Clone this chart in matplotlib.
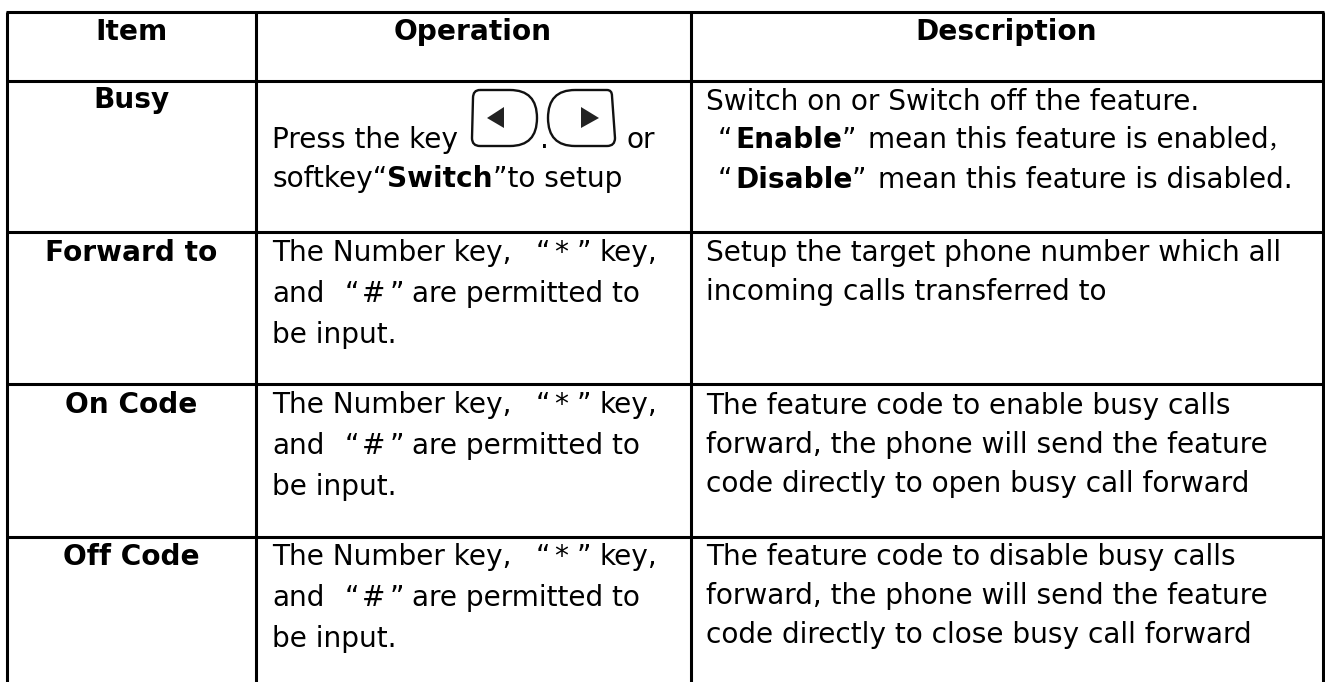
import matplotlib
matplotlib.use('Agg')
import matplotlib.pyplot as plt
from matplotlib.patches import PathPatch, Polygon
from matplotlib.path import Path

plt.rcParams['font.family'] = ['DejaVu Sans', 'Noto Sans CJK SC']

# table grid, pixels
col_x = [7, 256, 691, 1323]
row_y = [12, 81, 232, 384, 537]

headers = ['Item', 'Operation', 'Description']
header_x = [131, 473, 1006]
items = ['Busy', 'Forward to', 'On Code', 'Off Code']
item_y = [108, 261, 413, 565]

key_line1 = ['The Number key,', '“', '*', '”', 'key,']
key_line1_x = [272, 536, 554, 577, 600]
key_line2 = ['and', '“', '#', '”', 'are permitted to']
key_line2_x = [272, 345, 362, 390, 412]
key_line3 = 'be input.'
key_rows = [261, 413, 565]

forward_text = ['Setup the target phone number which all', 'incoming calls transferred to']
on_text = ['The feature code to enable busy calls', 'forward, the phone will send the feature', 'code directly to open busy call forward']
off_text = ['The feature code to disable busy calls', 'forward, the phone will send the feature', 'code directly to close busy call forward']

FS = 20.2

fig = plt.figure(figsize=(13.25, 6.82), dpi=100)
ax = fig.add_axes([0, 0, 1, 1])
ax.set_xlim(0, 1325)
ax.set_ylim(682, 0)
ax.axis('off')

# 画表格线
for x in col_x:
    ax.plot([x, x], [row_y[0], 682], color='black', lw=2.2, solid_capstyle='butt')
for y in row_y:
    ax.plot([col_x[0] - 1, col_x[-1] + 1], [y, y], color='black', lw=2.2, solid_capstyle='butt')

renderer = fig.canvas.get_renderer()

def txt(x, y, s, weight='normal', size=FS):
    ax.text(x, y, s, fontsize=size, fontweight=weight, va='baseline', ha='left', color='black')

def runs(x, y, parts):
    # 一段一段画，粗体和普通字接在一起
    for s, w in parts:
        t = ax.text(x, y, s + '|', fontsize=FS, fontweight=w, va='baseline', ha='left', color='black')
        w1 = t.get_window_extent(renderer).width
        t.set_text('|')
        w2 = t.get_window_extent(renderer).width
        t.set_text(s)
        x += w1 - w2

def block(x, ys, lines):
    for y, s in zip(ys, lines):
        txt(x, y, s)

for cx, s in zip(header_x, headers):
    ax.text(cx, 40, s, fontsize=FS, fontweight='bold', ha='center', va='baseline')

for y, s in zip(item_y, items):
    ax.text(header_x[0], y, s, fontsize=FS, fontweight='bold', ha='center', va='baseline')

# Operation column
txt(272, 148, 'Press the key')
runs(272, 187, [('softkey“', 'normal'), ('Switch', 'bold'), ('”to setup', 'normal')])
txt(540, 148, '.')
txt(627, 148, 'or')

# left / right keys
C3, L, M = Path.CURVE3, Path.LINETO, Path.MOVETO
left_key = Path([(480, 90), (510, 90), (537, 90), (537, 118), (537, 146), (510, 146),
                 (480, 146), (472, 146), (472, 138), (473, 98), (473, 90), (480, 90)],
                [M, L, C3, C3, C3, C3, L, C3, C3, L, C3, C3])
right_key = Path([(575, 90), (607, 90), (612, 90), (612, 96), (615, 138), (615, 146), (607, 146),
                  (575, 146), (548, 146), (548, 118), (548, 90), (575, 90)],
                 [M, L, C3, C3, L, C3, C3, L, C3, C3, C3, C3])
for p in [left_key, right_key]:
    ax.add_patch(PathPatch(p, fill=False, edgecolor='#111111', lw=1.7))
ax.add_patch(Polygon([(504, 107), (504, 128), (487, 118)], color='#222222', lw=0))
ax.add_patch(Polygon([(581, 107), (581, 128), (599, 118)], color='#222222', lw=0))

# Description column, busy row
txt(706, 110, 'Switch on or Switch off the feature.')
txt(718, 148, '“')
txt(735, 148, 'Enable', 'bold')
txt(842, 148, '”')
txt(868, 148, 'mean this feature is enabled')
txt(1268, 148, '，', size=16)
txt(718, 188, '“')
txt(735, 188, 'Disable', 'bold')
txt(852, 188, '”')
txt(878, 188, 'mean this feature is disabled.')

# Number key cells
for y0 in key_rows:
    for x, s in zip(key_line1_x, key_line1):
        txt(x, y0, s)
    for x, s in zip(key_line2_x, key_line2):
        txt(x, y0 + 41, s)
    txt(272, y0 + 82, key_line3)

block(706, [261, 300], forward_text)
block(706, [414, 453, 492], on_text)
block(706, [565, 604, 643], off_text)

fig.savefig('out.png', dpi=100)
